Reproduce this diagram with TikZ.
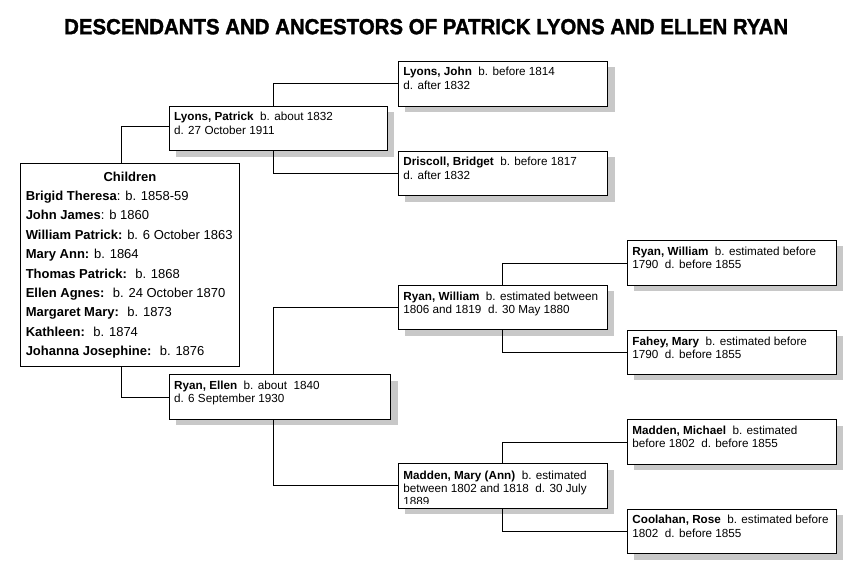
\documentclass[tikz,border=0pt]{standalone}
\usepackage{fontspec}
\setmainfont{Liberation Sans}
\newfontfamily\titlefont[FakeBold=1.6]{Liberation Sans Bold}
\usetikzlibrary{shadows}
\definecolor{shadowgray}{RGB}{200,200,200}
\newcommand\ptxtx[4]{\parbox[c][#2][t]{#1}{\raggedright\fontsize{11.7}{13.4}\selectfont\rule{0pt}{#4}#3}}
\newcommand\ptxt[3]{\ptxtx{#1}{#2}{#3}{14.6pt}}
\tikzset{
  pbox/.style={draw=black, line width=0.9pt, fill=white, inner xsep=5pt, inner ysep=0pt, anchor=north west,
    general shadow={fill=shadowgray, shadow xshift=7pt, shadow yshift=-6pt}},
  cbox/.style={draw=black, line width=0.9pt, fill=white, inner xsep=5pt, inner ysep=0pt, anchor=north west},
  link/.style={draw=black, line width=0.85pt}
}
\begin{document}
\begin{tikzpicture}[x=1pt,y=-1pt]
\fill[white] (0,0) rectangle (855,572);
\useasboundingbox (0,0) rectangle (855,572);
% title
\node[inner sep=0pt] (title) at (426.2,26.7) {\resizebox{724pt}{15.3pt}{\titlefont DESCENDANTS AND ANCESTORS OF PATRICK LYONS AND ELLEN RYAN}};
% children
\node[cbox] (ch) at (20.3,163.3) {\parbox[c][202.7pt][t]{208.4pt}{\fontsize{13}{19.4}\selectfont\centering\rule{0pt}{17.4pt}\textbf{Children}\par\raggedright
\textbf{Brigid Theresa}: b. 1858-59\\
\textbf{John James}: b 1860\\
\textbf{William Patrick:} b. 6 October 1863\\
\textbf{Mary Ann:} b. 1864\\
\textbf{Thomas Patrick:}~ b. 1868\\
\textbf{Ellen Agnes:}~ b. 24 October 1870\\
\textbf{Margaret Mary:}~ b. 1873\\
\textbf{Kathleen:}~ b. 1874\\
\textbf{Johanna Josephine:}~ b. 1876}};
% parents
\node[pbox] (pl) at (168.7,105.7) {\ptxt{208pt}{44.6pt}{\textbf{Lyons, Patrick}~ b. about 1832\\d. 27 October 1911}};
\node[pbox] (re) at (168.7,374.3) {\ptxt{211.6pt}{44.4pt}{\textbf{Ryan, Ellen}~ b. about~ 1840\\d. 6 September 1930}};
% grandparents
\node[pbox] (lj) at (398,60.7) {\ptxt{199.3pt}{45.3pt}{\textbf{Lyons, John}~ b. before 1814\\d. after 1832}};
\node[pbox] (db) at (398,150.7) {\ptxt{199.3pt}{44.6pt}{\textbf{Driscoll, Bridget}~ b. before 1817\\d. after 1832}};
\node[pbox] (rw) at (398,285) {\ptxt{199pt}{44.3pt}{\textbf{Ryan, William}~ b. estimated between\\1806 and 1819~ d. 30 May 1880}};
\node[pbox] (ma) at (398,463.3) {\ptxtx{199pt}{44pt}{\textbf{Madden, Mary (Ann)}~ b. estimated\\between 1802 and 1818~ d. 30 July\\1889}{15.3pt}};
% the last line of Madden, Mary (Ann) is cut off by the box
\fill[white] ([xshift=0.6pt,yshift=0.5pt]ma.south west) rectangle ([xshift=-0.6pt,yshift=3.8pt]ma.south east);
\draw[line width=0.9pt] (ma.south west) rectangle (ma.north east);
% great-grandparents
\node[pbox] (rwt) at (627,240) {\ptxt{198.7pt}{45pt}{\textbf{Ryan, William}~ b. estimated before\\1790~ d. before 1855}};
\node[pbox] (fm) at (627,330) {\ptxt{198.7pt}{44pt}{\textbf{Fahey, Mary}~ b. estimated before\\1790~ d. before 1855}};
\node[pbox] (mm) at (627,419.3) {\ptxt{198.7pt}{44.7pt}{\textbf{Madden, Michael}~ b. estimated\\before 1802~ d. before 1855}};
\node[pbox] (cr) at (627,508.7) {\ptxt{198.7pt}{44.6pt}{\textbf{Coolahan, Rose}~ b. estimated before\\1802~ d. before 1855}};
% connectors
\draw[link] ([xshift=-8.8pt]ch.north) |- ([yshift=2pt]pl.west);
\draw[link] ([xshift=-8.8pt]ch.south) |- (re.west);
\draw[link] ([xshift=-4.7pt]pl.north) |- (lj.west);
\draw[link] ([xshift=-4.7pt]pl.south) |- (db.west);
\draw[link] ([xshift=-6.5pt]re.north) |- (rw.west);
\draw[link] ([xshift=-6.5pt]re.south) |- (ma.west);
\draw[link] ([xshift=-0.8pt]rw.north) |- (rwt.west);
\draw[link] ([xshift=-0.8pt]rw.south) |- (fm.west);
\draw[link] ([xshift=-0.8pt]ma.north) |- (mm.west);
\draw[link] ([xshift=-0.8pt]ma.south) |- (cr.west);
\end{tikzpicture}
\end{document}
